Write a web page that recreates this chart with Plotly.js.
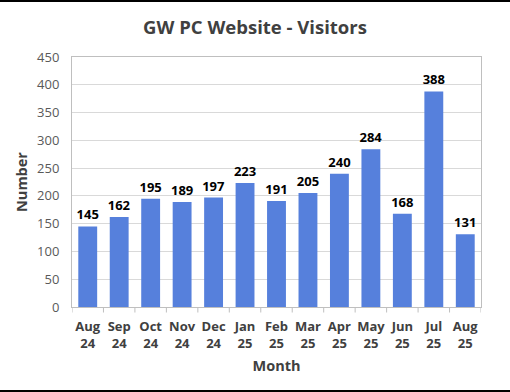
<!DOCTYPE html>
<html>
<head>
<meta charset="utf-8">
<script src="https://cdn.plot.ly/plotly-3.0.1.min.js"></script>
<style>
html,body{margin:0;padding:0;background:#fff;}
#wrap{position:relative;width:510px;height:392px;}
#chart{width:510px;height:392px;}
.bt{position:absolute;left:0;width:510px;background:#000;}
</style>
</head>
<body>
<div id="wrap">
<div id="chart"></div>
<div class="bt" style="top:0;height:2px;"></div>
<div class="bt" style="top:390px;height:2px;"></div>
</div>
<script>
const months = ["Aug<br>24","Sep<br>24","Oct<br>24","Nov<br>24","Dec<br>24","Jan<br>25","Feb<br>25","Mar<br>25","Apr<br>25","May<br>25","Jun<br>25","Jul<br>25","Aug<br>25"];
const categories = months.map((m,i)=>i);
const visitors = [145,162,195,189,197,223,191,205,240,284,168,388,131];
const yTicks = [0,50,100,150,200,250,300,350,400,450];

const FONT = "Open Sans, Noto Sans, sans-serif";

const trace = {
  type: "bar",
  x: categories,
  y: visitors,
  marker: {color: "#5680DC", line: {width: 0}},
  text: visitors.map(String),
  textposition: "outside",
  constraintext: "none",
  cliponaxis: false,
  textfont: {family: FONT, size: 13, color: "#000", weight: 700},
  hoverinfo: "none"
};

const layout = {
  width: 510, height: 392,
  margin: {l: 72, r: 29, t: 57, b: 85},
  paper_bgcolor: "#fff",
  plot_bgcolor: "#fff",
  showlegend: false,
  bargap: 0.4,
  title: {
    text: "GW PC Website - Visitors",
    font: {family: FONT, size: 18.5, color: "#404040", weight: 700},
    x: 0.5, xanchor: "center", y: 0.93, yanchor: "middle"
  },
  xaxis: {
    type: "linear",
    tickmode: "array",
    tickvals: categories,
    ticktext: months,
    range: [-0.5, 12.5],
    showgrid: false,
    zeroline: false,
    showline: true, linecolor: "#bfbfbf", linewidth: 1, mirror: true,
    ticks: "",
    ticklabelstandoff: 7,
    tickfont: {family: FONT, size: 13, color: "#404040", weight: 700},
    title: {text: "Month", font: {family: FONT, size: 14.5, color: "#404040", weight: 700}, standoff: 10}
  },
  yaxis: {
    range: [0, 450],
    tickmode: "array",
    tickvals: yTicks,
    showgrid: true, gridcolor: "#d9d9d9", gridwidth: 1,
    zeroline: false,
    showline: true, linecolor: "#bfbfbf", linewidth: 1, mirror: true,
    ticks: "",
    ticklabelstandoff: 9,
    tickfont: {family: FONT, size: 13, color: "#595959"},
    title: {text: "Number", font: {family: FONT, size: 14.5, color: "#404040", weight: 700}, standoff: 6}
  },
  shapes: categories.concat([13]).map(i => ({
    type: "line", xref: "x", yref: "paper",
    x0: i - 0.5, x1: i - 0.5, y0: 0, y1: -0.022,
    line: {color: "#bfbfbf", width: 1}
  }))
};

Plotly.newPlot("chart", [trace], layout, {displayModeBar: false, staticPlot: true});
</script>
</body>
</html>
